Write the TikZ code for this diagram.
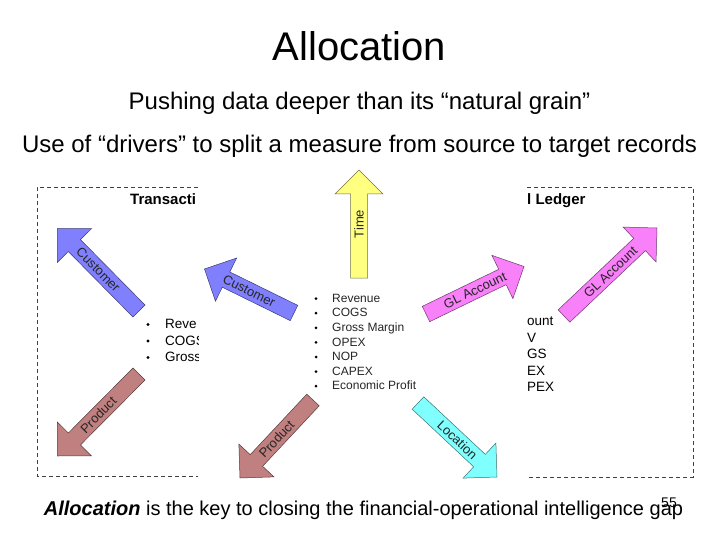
\documentclass[tikz,border=0pt]{standalone}
\usepackage{fontspec}
\setmainfont{Liberation Sans}
\usetikzlibrary{calc}

\definecolor{custblue}{RGB}{128,128,255}
\definecolor{timeyellow}{RGB}{255,255,128}
\definecolor{glpink}{RGB}{248,128,248}
\definecolor{prodbrown}{RGB}{192,128,128}
\definecolor{loccyan}{RGB}{128,255,255}

% --- block arrow: tail, tip, colour
\newcommand{\bigarrow}[3]{%
  \coordinate (hb) at ($(#2)!24pt!(#1)$);
  \filldraw[fill=#3, draw=#3!45!black, line width=0.5pt]
    ($(#1)!8.5pt!90:(#2)$) -- ($(hb)!8.5pt!90:(#2)$) -- ($(hb)!24pt!90:(#2)$) -- (#2)
    -- ($(hb)!24pt!-90:(#2)$) -- ($(hb)!8.5pt!-90:(#2)$) -- ($(#1)!8.5pt!-90:(#2)$) -- cycle;
}

\begin{document}
\begin{tikzpicture}[x=1pt,y=-1pt,
  boxline/.style={black!75, line width=0.8pt, dash pattern=on 4pt off 3pt},
  lbl/.style={inner sep=0pt, font=\fontsize{13}{15}\selectfont, text=black!85},
  item/.style={inner sep=0pt, font=\fontsize{12}{14}\selectfont, text=black!85},
  sideitem/.style={inner sep=0pt, font=\fontsize{13.5}{16}\selectfont},
  boxtitle/.style={inner sep=0pt, font=\fontsize{15}{18}\bfseries\selectfont}]
\useasboundingbox (0,0) rectangle (720,540);
\fill[white] (0,0) rectangle (720,540);

% --- heading
\node[inner sep=0pt, anchor=base, font=\fontsize{40}{48}\selectfont] (title) at (359.5,61) {Allocation};
\node[inner sep=0pt, anchor=base, font=\fontsize{24}{28}\selectfont] (sub1) at (359.5,110) {Pushing data deeper than its “natural grain”};
\node[inner sep=0pt, anchor=base, font=\fontsize{24}{28}\selectfont] (sub2) at (359.5,153) {Use of “drivers” to split a measure from source to target records};

% --- the two dashed boxes (cut off in the middle)
\draw[boxline] (198,187) -- (37,187) -- (37,476) -- (198,476);
\draw[boxline] (527,187) -- (693,187) -- (693,477) -- (527,477);
\node[boxtitle, anchor=base west] (trans) at (130,205) {Transacti};
\node[boxtitle, anchor=base west] (ledger) at (527,205) {l Ledger};

% --- left list, clipped at the gap
\begin{scope}
\clip (0,0) rectangle (198,540);
\foreach \txt [count=\i] in {Reve,COGS,Gross} {
  \fill (148,{308+16.5*\i}) circle (1.6pt);
  \node[sideitem, anchor=base west] (l\i) at (165,{312+16.5*\i}) {\txt};
}
\end{scope}

% --- right list
\foreach \txt [count=\i] in {ount,V,GS,EX,PEX}
  \node[sideitem, anchor=base west] (r\i) at (527,{309.3+16.5*\i}) {\txt};

% --- measures in the middle
\foreach \txt [count=\i] in {Revenue,COGS,Gross Margin,OPEX,NOP,CAPEX,Economic Profit} {
  \fill (316,{284+14.6*\i}) circle (1.5pt);
  \node[item, anchor=base west] (m\i) at (332,{287.7+14.6*\i}) {\txt};
}

% --- arrow end points
\coordinate (custA-tail) at (139,311);   \coordinate (custA-tip) at (57.5,228.5);
\coordinate (custB-tail) at (294,313);   \coordinate (custB-tip) at (204.5,269);
\coordinate (time-tail) at (359,278);    \coordinate (time-tip) at (359,170);
\coordinate (glA-tail) at (426,314);     \coordinate (glA-tip) at (524,266.5);
\coordinate (glB-tail) at (564,316);     \coordinate (glB-tip) at (657,228);
\coordinate (prodA-tail) at (139,374);   \coordinate (prodA-tip) at (57.5,456);
\coordinate (prodB-tail) at (313,400);   \coordinate (prodB-tip) at (240,478);
\coordinate (loc-tail) at (418,403);     \coordinate (loc-tip) at (497,477);

% --- block arrows
\bigarrow{custA-tail}{custA-tip}{custblue}
\bigarrow{custB-tail}{custB-tip}{custblue}
\bigarrow{time-tail}{time-tip}{timeyellow}
\bigarrow{glA-tail}{glA-tip}{glpink}
\bigarrow{glB-tail}{glB-tip}{glpink}
\bigarrow{prodA-tail}{prodA-tip}{prodbrown}
\bigarrow{prodB-tail}{prodB-tip}{prodbrown}
\bigarrow{loc-tail}{loc-tip}{loccyan}

% --- labels along the arrows
\path (custA-tail) -- node[lbl, sloped] (custA) {Customer} (custA-tip);
\path (custB-tail) -- node[lbl, sloped] (custB) {Customer} (custB-tip);
\path (time-tail) -- node[lbl, sloped] (time) {Time} (time-tip);
\path (glA-tail) -- node[lbl, sloped] (glA) {GL Account} (glA-tip);
\path (glB-tail) -- node[lbl, sloped] (glB) {GL Account} (glB-tip);
\path (prodA-tail) -- node[lbl, sloped] (prodA) {Product} (prodA-tip);
\path (prodB-tail) -- node[lbl, sloped] (prodB) {Product} (prodB-tip);
\path (loc-tail) -- node[lbl, sloped] (loc) {Location} (loc-tip);

% --- footer
\node[inner sep=0pt, anchor=base, font=\fontsize{20}{24}\selectfont] (foot) at (363.5,515.5) {\textbf{\textit{Allocation}} is the key to closing the financial-operational intelligence gap};
\node[inner sep=0pt, anchor=base, font=\fontsize{14}{16}\selectfont] (page) at (669,507) {55};
\end{tikzpicture}
\end{document}
